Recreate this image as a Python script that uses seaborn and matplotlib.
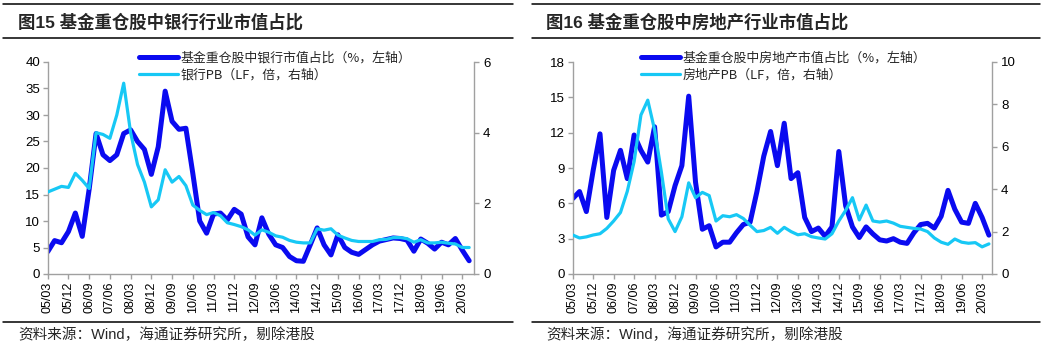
import numpy as np
import pandas as pd
import matplotlib
matplotlib.use("Agg")
import matplotlib.pyplot as plt
from matplotlib.lines import Line2D
import seaborn as sns

# ---------------- data (quarterly, 2005Q1 .. 2020Q2) ----------------
bank_share = [4.2, 6.3, 5.9, 8.0, 11.5, 7.1, 16.0, 26.5, 22.5, 21.4,
              22.5, 26.5, 27.2, 25.0, 23.5, 18.8, 24.0, 34.5, 28.8, 27.3,
              27.5, 19.0, 10.0, 7.7, 11.3, 11.5, 10.2, 12.2, 11.3, 7.0,
              5.5, 10.6, 7.5, 5.5, 5.0, 3.3, 2.5, 2.4, 5.5, 8.7,
              5.5, 3.6, 7.4, 5.0, 4.1, 3.7, 4.6, 5.5, 6.2, 6.5,
              6.8, 6.7, 6.4, 4.3, 6.6, 5.8, 4.7, 6.0, 5.5, 6.7,
              4.5, 2.5]
bank_pb = [2.32, 2.40, 2.48, 2.45, 2.85, 2.65, 2.42, 4.00, 3.95, 3.84,
           4.50, 5.40, 4.00, 3.10, 2.60, 1.90, 2.10, 2.95, 2.60, 2.76,
           2.50, 1.95, 1.80, 1.68, 1.74, 1.65, 1.45, 1.40, 1.34, 1.25,
           1.10, 1.25, 1.18, 1.08, 1.04, 0.95, 0.90, 0.88, 0.88, 1.28,
           1.24, 1.28, 1.10, 1.02, 0.95, 0.92, 0.92, 0.92, 0.97, 0.98,
           1.03, 1.03, 1.00, 0.90, 0.97, 0.88, 0.88, 0.90, 0.87, 0.85,
           0.75, 0.75]
re_share = [6.4, 7.0, 5.3, 8.8, 11.9, 4.8, 8.8, 10.5, 8.1, 11.8,
            10.5, 9.5, 12.5, 5.0, 5.3, 7.5, 9.2, 15.1, 7.8, 3.8,
            4.1, 2.3, 2.7, 2.7, 3.5, 4.2, 4.4, 7.0, 10.0, 12.1,
            9.2, 12.8, 8.1, 8.6, 4.8, 3.6, 3.9, 3.2, 4.0, 10.4,
            5.8, 4.0, 3.1, 4.0, 3.4, 2.9, 2.8, 3.0, 2.7, 2.6,
            3.5, 4.2, 4.3, 3.9, 4.9, 7.1, 5.5, 4.4, 4.3, 6.0,
            4.8, 3.3]
re_pb = [1.84, 1.70, 1.75, 1.84, 1.90, 2.15, 2.50, 2.90, 3.90, 5.30,
         7.50, 8.20, 6.80, 4.80, 2.60, 2.00, 2.70, 4.30, 3.60, 3.85,
         3.70, 2.50, 2.75, 2.70, 2.80, 2.62, 2.30, 2.00, 2.05, 2.20,
         1.92, 2.20, 2.00, 1.85, 1.90, 1.76, 1.70, 1.65, 1.90, 2.50,
         3.00, 3.60, 2.55, 3.25, 2.50, 2.45, 2.50, 2.40, 2.25, 2.20,
         2.15, 2.12, 2.00, 1.70, 1.50, 1.40, 1.65, 1.50, 1.45, 1.48,
         1.28, 1.42]
xtick_labels = ["05/03", "05/12", "06/09", "07/06", "08/03", "08/12", "09/09",
                "10/06", "11/03", "11/12", "12/09", "13/06", "14/03", "14/12",
                "15/09", "16/06", "17/03", "17/12", "18/09", "19/06", "20/03"]

titles = ["图15 基金重仓股中银行行业市值占比", "图16 基金重仓股中房地产行业市值占比"]
legend_share = ["基金重仓股中银行市值占比（%，左轴）", "基金重仓股中房地产市值占比（%，左轴）"]
legend_pb = ["银行PB（LF，倍，右轴）", "房地产PB（LF，倍，右轴）"]
source_text = "资料来源：Wind，海通证券研究所，剔除港股"

# ---------------- style ----------------
sns.set_theme(style="white")
plt.rcParams["font.family"] = ["Liberation Sans", "Noto Sans CJK SC", "DejaVu Sans"]
plt.rcParams["axes.unicode_minus"] = False

DARK = "#0A0AF0"
LIGHT = "#17C8F5"
GRAY = "#A0A0A0"

W, H = 1049, 352
fig = plt.figure(figsize=(W / 100, H / 100), dpi=100)

x = np.arange(len(bank_share))
df_bank = pd.DataFrame({"q": x, "share": bank_share, "pb": bank_pb})
df_re = pd.DataFrame({"q": x, "share": re_share, "pb": re_pb})

panels = [
    dict(df=df_bank, x0=47.7, x1=474, xmax=61.7, lmax=40, lstep=5, rmax=6, rstep=2,
         leg_x=0.222, line_x=(3, 513), title_x=18),
    dict(df=df_re, x0=572.7, x1=992, xmax=61.45, lmax=18, lstep=3, rmax=10, rstep=2,
         leg_x=0.170, line_x=(532, 1040), title_x=546),
]

y_top, y_bot = 62, 274
for k, p in enumerate(panels):
    ax = fig.add_axes([p["x0"] / W, 1 - y_bot / H, (p["x1"] - p["x0"]) / W, (y_bot - y_top) / H])
    ax2 = ax.twinx()
    sns.lineplot(data=p["df"], x="q", y="share", ax=ax, color=DARK, lw=3.6,
                 legend=False, solid_joinstyle="round", solid_capstyle="round")
    sns.lineplot(data=p["df"], x="q", y="pb", ax=ax2, color=LIGHT, lw=2.3,
                 legend=False, solid_joinstyle="round", solid_capstyle="round")

    ax.set_xlim(0, p["xmax"])
    ax.set_ylim(0, p["lmax"])
    ax2.set_ylim(0, p["rmax"])
    ax.set_yticks(np.arange(0, p["lmax"] + 0.1, p["lstep"]))
    ax2.set_yticks(np.arange(0, p["rmax"] + 0.1, p["rstep"]))
    ax.set_xticks(np.arange(0, 61, 3))
    ax.set_xticklabels(xtick_labels, rotation=90)
    ax.set_xlabel("")
    ax.set_ylabel("")
    ax2.set_ylabel("")

    for a in (ax, ax2):
        for s in a.spines.values():
            s.set_color(GRAY)
            s.set_linewidth(1.0)
        a.spines["top"].set_visible(False)
        a.grid(False)
    ax.spines["right"].set_visible(False)
    ax2.spines["left"].set_visible(False)
    ax2.spines["bottom"].set_visible(False)
    ax.tick_params(axis="both", direction="out", length=3.5, width=1, color=GRAY,
                   labelsize=9.5, labelcolor="#000000", pad=2)
    ax.tick_params(axis="y", left=True, right=False)
    ax.tick_params(axis="x", bottom=True, labelsize=9)
    ax2.tick_params(axis="y", direction="out", length=3.5, width=1, color=GRAY,
                    labelsize=9.5, labelcolor="#000000", right=True, left=False, pad=3)

    handles = [Line2D([], [], color=DARK, lw=3.6), Line2D([], [], color=LIGHT, lw=2.3)]
    ax2.legend(handles, [legend_share[k], legend_pb[k]], loc="upper left",
               bbox_to_anchor=(p["leg_x"] - 0.02, 1.075), frameon=False,
               prop={"family": ["Noto Sans CJK SC"], "size": 9.3},
               handlelength=3.0, handletextpad=0.25, labelspacing=0.35, borderaxespad=0)

    # header / footer rules
    lx0, lx1 = p["line_x"]
    for yy in (4, 38, 322):
        fig.add_artist(Line2D([lx0 / W, lx1 / W], [1 - yy / H, 1 - yy / H],
                              color="#000000", lw=1.1))
    fig.text(p["title_x"] / W, 1 - 21.5 / H, titles[k], fontsize=12.5, fontweight="bold",
             va="center", ha="left", family=["Liberation Sans", "Noto Sans CJK SC"])
    fig.text(p["title_x"] / W, 1 - 335 / H, source_text, fontsize=10.5,
             va="center", ha="left", family=["Liberation Sans", "Noto Sans CJK SC"])

fig.savefig("out.png", dpi=100)
